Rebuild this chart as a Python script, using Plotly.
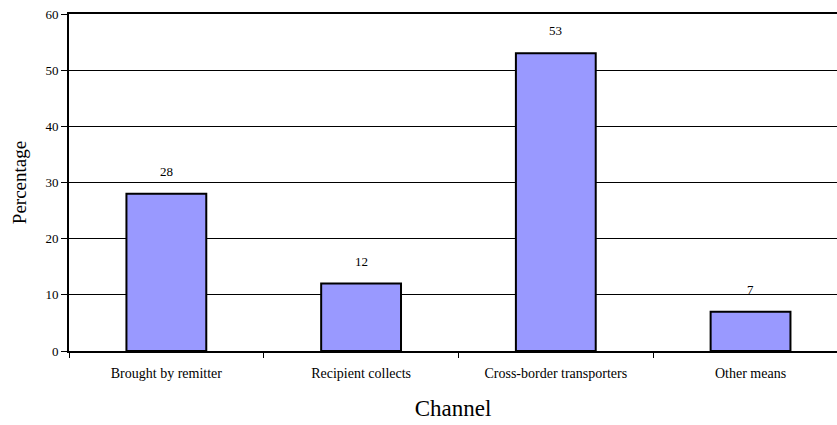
import plotly.graph_objects as go

channels = ["Brought by remitter", "Recipient collects", "Cross-border transporters", "Other means"]
percentages = [28, 12, 53, 7]

serif = "Liberation Serif, Times New Roman, serif"

fig = go.Figure(
    go.Bar(
        x=channels,
        y=percentages,
        width=0.41,
        marker=dict(color="#9999FF", line=dict(color="black", width=2)),
    )
)

# value labels sitting a little above each bar
for ch, v in zip(channels, percentages):
    fig.add_annotation(
        x=ch, y=v, text=str(v), showarrow=False,
        yanchor="bottom", yshift=13,
        font=dict(family=serif, size=13, color="black"),
    )

fig.update_layout(
    width=837,
    height=425,
    margin=dict(l=69, r=0, t=14, b=74),
    paper_bgcolor="white",
    plot_bgcolor="white",
    showlegend=False,
    font=dict(family=serif, color="black"),
)

fig.update_xaxes(
    title=dict(text="Channel", font=dict(family=serif, size=23), standoff=20),
    tickfont=dict(family=serif, size=14),
    range=[-0.5, 3.444],
    showline=True,
    mirror=True,
    linecolor="black",
    linewidth=2,
    ticks="outside",
    tickson="boundaries",
    ticklen=5,
    tickcolor="black",
    ticklabelstandoff=8,
    showgrid=False,
)

fig.update_yaxes(
    title=dict(text="Percentage", font=dict(family=serif, size=19), standoff=14),
    tickfont=dict(family=serif, size=13),
    range=[0, 60],
    dtick=10,
    showline=True,
    linecolor="black",
    linewidth=2,
    ticks="outside",
    ticklen=6,
    tickcolor="black",
    showgrid=True,
    gridcolor="black",
    gridwidth=1,
    zeroline=False,
)

fig.write_html("out.html")
